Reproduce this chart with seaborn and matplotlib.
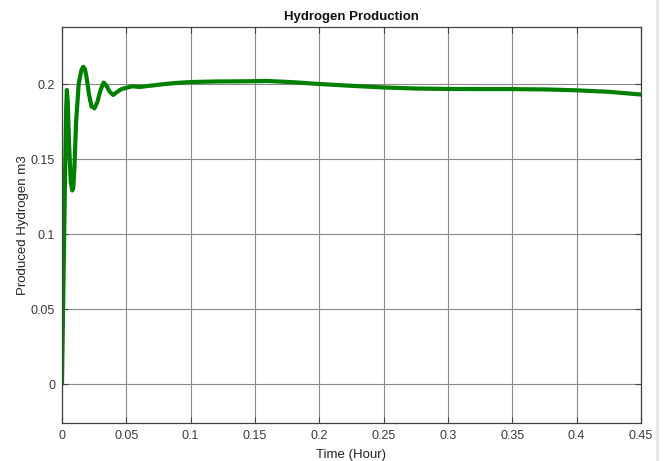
import matplotlib
matplotlib.use("Agg")
import matplotlib.pyplot as plt
import seaborn as sns
import pandas as pd

# Hydrogen production over time (hours) vs produced volume (m3)
time_h = [0, 0.0012, 0.0025, 0.0033, 0.0038, 0.0045, 0.0055, 0.0068, 0.0080, 0.0088,
          0.0097, 0.0110, 0.0130, 0.0150, 0.0165, 0.0178, 0.0192, 0.0210, 0.0230, 0.0253,
          0.0275, 0.0300, 0.0324, 0.0345, 0.0370, 0.0398, 0.0425, 0.0460, 0.050, 0.055,
          0.060, 0.065, 0.070, 0.080, 0.090, 0.100, 0.120, 0.140, 0.160, 0.180,
          0.200, 0.225, 0.250, 0.275, 0.300, 0.325, 0.350, 0.375, 0.400, 0.425, 0.450]
hydrogen_m3 = [0, 0.070, 0.145, 0.185, 0.196, 0.188, 0.160, 0.135, 0.129, 0.131,
               0.145, 0.175, 0.200, 0.209, 0.2115, 0.210, 0.204, 0.193, 0.185, 0.1838,
               0.188, 0.196, 0.2010, 0.199, 0.195, 0.1927, 0.1945, 0.1965, 0.1975, 0.1985,
               0.198, 0.1985, 0.199, 0.2000, 0.2008, 0.2013, 0.2017, 0.2018, 0.2020, 0.2012,
               0.2000, 0.1988, 0.1977, 0.1970, 0.1967, 0.1966, 0.1966, 0.1964, 0.1958, 0.1948, 0.1930]

x_ticks = [0, 0.05, 0.1, 0.15, 0.2, 0.25, 0.3, 0.35, 0.4, 0.45]
x_tick_labels = ["0", "0.05", "0.1", "0.15", "0.2", "0.25", "0.3", "0.35", "0.4", "0.45"]
y_ticks = [0, 0.05, 0.1, 0.15, 0.2]
y_tick_labels = ["0", "0.05", "0.1", "0.15", "0.2"]

df = pd.DataFrame({"t": time_h, "h2": hydrogen_m3})

sns.set_style("whitegrid")
plt.rcParams["font.family"] = ["Liberation Sans", "DejaVu Sans"]

fig = plt.figure(figsize=(6.65, 4.61), dpi=100)
ax = fig.add_axes([0.0932, 0.0824, 0.8706, 0.8590])

sns.lineplot(data=df, x="t", y="h2", ax=ax, color="#008000", linewidth=3.0,
             estimator=None, sort=False)

ax.set_xlim(0, 0.45)
ax.set_ylim(-0.026, 0.238)
ax.set_xticks(x_ticks)
ax.set_xticklabels(x_tick_labels)
ax.set_yticks(y_ticks)
ax.set_yticklabels(y_tick_labels)

ax.grid(True, color="#8a8a8a", linewidth=0.8)
ax.set_axisbelow(True)
for side in ["left", "bottom", "top", "right"]:
    ax.spines[side].set_visible(True)
    ax.spines[side].set_color("#404040")
    ax.spines[side].set_linewidth(0.9)

ax.tick_params(axis="both", which="both", direction="in", length=4, width=0.8,
               colors="#404040", labelcolor="#3a3a3a", labelsize=9,
               top=True, right=True, bottom=True, left=True)
ax.tick_params(axis="x", pad=5)
ax.tick_params(axis="y", pad=5)

ax.set_title("Hydrogen Production", fontsize=9.5, fontweight="bold", color="#111111", pad=5)
ax.set_xlabel("Time (Hour)", fontsize=9.5, color="#262626", labelpad=5)
ax.set_ylabel("Produced Hydrogen m3", fontsize=9.5, color="#262626", labelpad=1)

# thin light border strip along the right edge
fig.add_artist(plt.Line2D([0.988, 0.988], [0, 1], transform=fig.transFigure,
                          color="#e6e6e6", linewidth=2))

fig.savefig("out.png", dpi=100)
